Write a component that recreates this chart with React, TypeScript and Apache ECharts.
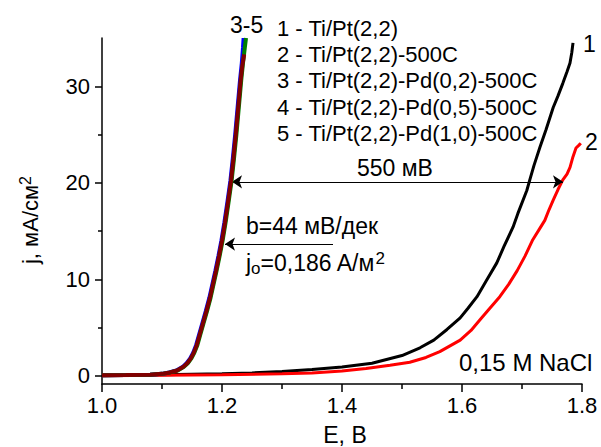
import React, { useEffect, useRef } from "react";
import * as echarts from "echarts";

const FONT = "Liberation Sans";

// Curve 1 - Ti/Pt(2,2) (black)
const curve1: number[][] = [
  [1.0, 0.05], [1.1, 0.1], [1.2, 0.2], [1.25, 0.3], [1.3, 0.45], [1.35, 0.65],
  [1.4, 0.9], [1.45, 1.3], [1.5, 2.1], [1.53, 2.9], [1.553, 3.7], [1.575, 4.8],
  [1.597, 6.0], [1.61, 7.0], [1.625, 8.2], [1.64, 9.8], [1.658, 11.7], [1.67, 13.4],
  [1.685, 15.4], [1.693, 16.8], [1.708, 19.2], [1.713, 20.3], [1.72, 21.8],
  [1.73, 23.7], [1.74, 25.5], [1.752, 27.8], [1.76, 29.0], [1.768, 30.3],
  [1.775, 31.5], [1.78, 32.4], [1.783, 33.5], [1.785, 34.5],
];

// Curve 2 - Ti/Pt(2,2)-500C (red)
const curve2: number[][] = [
  [1.0, 0.0], [1.1, 0.05], [1.2, 0.1], [1.3, 0.2], [1.35, 0.3], [1.4, 0.5],
  [1.44, 0.75], [1.48, 1.1], [1.513, 1.4], [1.54, 1.9], [1.563, 2.5], [1.58, 3.1],
  [1.597, 3.7], [1.615, 4.7], [1.63, 5.8], [1.645, 6.9], [1.663, 8.2], [1.678, 9.5],
  [1.692, 10.9], [1.705, 12.4], [1.718, 14.1], [1.73, 15.3], [1.738, 16.1],
  [1.745, 17.2], [1.752, 18.2], [1.76, 19.3], [1.768, 20.3], [1.775, 20.9],
  [1.78, 21.6], [1.785, 22.7], [1.79, 23.6], [1.795, 23.9], [1.798, 24.1],
];

// Curve 3 - Pd(0,2) (blue)
const curve3: number[][] = [
  [1.0, 0.05], [1.04, 0.07], [1.08, 0.12], [1.1, 0.2], [1.112, 0.35], [1.124, 0.55],
  [1.134, 0.9], [1.141, 1.3], [1.147, 1.8], [1.152, 2.4], [1.157, 3.2], [1.162, 4.3],
  [1.167, 5.4], [1.173, 6.7], [1.179, 8.1], [1.184, 9.5], [1.189, 10.9], [1.194, 12.4],
  [1.199, 14.0], [1.204, 15.9], [1.209, 18.0], [1.214, 20.2], [1.218, 22.5],
  [1.222, 25.0], [1.226, 27.8], [1.23, 30.6], [1.233, 32.4], [1.235, 34.0], [1.236, 35.0],
];

// Curve 4 - Pd(0,5) (green)
const curve4: number[][] = [
  [1.0, 0.05], [1.04, 0.07], [1.08, 0.12], [1.1, 0.2], [1.114, 0.35], [1.126, 0.55],
  [1.136, 0.9], [1.143, 1.3], [1.149, 1.8], [1.154, 2.4], [1.159, 3.2], [1.164, 4.3],
  [1.169, 5.4], [1.175, 6.7], [1.181, 8.1], [1.186, 9.5], [1.191, 10.9], [1.196, 12.4],
  [1.201, 14.0], [1.206, 15.9], [1.211, 18.0], [1.216, 20.2], [1.22, 22.5],
  [1.224, 25.0], [1.228, 27.8], [1.232, 30.6], [1.235, 32.4], [1.238, 34.0], [1.24, 35.0],
];

// Curve 5 - Pd(1,0) (dark red)
const curve5: number[][] = [
  [1.0, 0.05], [1.04, 0.07], [1.08, 0.12], [1.1, 0.2], [1.113, 0.35], [1.125, 0.55],
  [1.135, 0.9], [1.142, 1.3], [1.148, 1.8], [1.153, 2.4], [1.158, 3.2], [1.163, 4.3],
  [1.168, 5.4], [1.174, 6.7], [1.18, 8.1], [1.185, 9.5], [1.19, 10.9], [1.195, 12.4],
  [1.2, 14.0], [1.205, 15.9], [1.21, 18.0], [1.215, 20.2], [1.219, 22.5],
  [1.223, 25.0], [1.227, 27.8], [1.231, 30.6], [1.234, 32.2], [1.237, 33.3],
];

const legendLines = [
  "1 - Ti/Pt(2,2)",
  "2 - Ti/Pt(2,2)-500C",
  "3 - Ti/Pt(2,2)-Pd(0,2)-500C",
  "4 - Ti/Pt(2,2)-Pd(0,5)-500C",
  "5 - Ti/Pt(2,2)-Pd(1,0)-500C",
];

const yMajorTicks = [0, 10, 20, 30];
const yMinorTicks = [5, 15, 25];

// annotation arrows in data units
const gapArrow = { from: 1.2167, to: 1.7683, j: 20.1 };
const tafelArrow = { from: 1.385, to: 1.205, j: 13.65 };

function txt(x: number, y: number, text: string, size: number, extra: any = {}) {
  return {
    type: "text",
    x,
    y,
    silent: true,
    style: {
      text,
      fill: "#000",
      fontFamily: FONT,
      fontSize: size,
      textAlign: "left",
      textVerticalAlign: "middle",
      align: "left",
      verticalAlign: "middle",
      ...extra,
    },
  };
}

export default function App() {
  const ref = useRef<HTMLDivElement>(null);
  useEffect(() => {
    if (!ref.current) return;
    const chart = echarts.init(ref.current, null, { renderer: "svg" });
    const axisLineStyle = { color: "#000", width: 1.5 };
    const lineSeries = (name: string, data: number[][], color: string, width: number, z: number, extra: any = {}) => ({
      name,
      type: "line",
      data,
      showSymbol: false,
      symbol: "none",
      z,
      lineStyle: { color, width },
      itemStyle: { color },
      ...extra,
    });
    const graphics: any[] = [];
    legendLines.forEach((t, i) => {
      graphics.push(txt(277, [28, 54, 80, 107, 133][i], t, 22));
    });
    graphics.push(txt(230, 25, "3-5", 23));
    graphics.push(txt(583, 44, "1", 23));
    graphics.push(txt(585, 142, "2", 23));
    graphics.push(txt(357, 168, "550 мВ", 23));
    graphics.push(txt(246, 226, "b=44 мВ/дек", 23));
    graphics.push(
      txt(246, 263, "{n|j}{sub|o}{n|=0,186 A/м}{sup|2}", 23, {
        rich: {
          n: { fontSize: 23, fontFamily: FONT, fill: "#000", verticalAlign: "middle", lineHeight: 27 },
          sub: { fontSize: 17, fontFamily: FONT, fill: "#000", verticalAlign: "bottom", lineHeight: 18 },
          sup: { fontSize: 17, fontFamily: FONT, fill: "#000", verticalAlign: "top", lineHeight: 18 },
        },
      })
    );
    graphics.push(txt(459, 362, "0,15 M NaCl", 24));
    graphics.push(txt(345, 435, "E, B", 23, { textAlign: "center", align: "center" }));
    graphics.push({
      type: "text",
      x: 30,
      y: 220,
      rotation: Math.PI / 2,
      silent: true,
      style: {
        text: "{n|j, мА/см}{sup|2}",
        textAlign: "center",
        align: "center",
        textVerticalAlign: "middle",
        verticalAlign: "middle",
        fill: "#000",
        fontFamily: FONT,
        fontSize: 22,
        rich: {
          n: { fontSize: 22, fontFamily: FONT, fill: "#000", verticalAlign: "middle", lineHeight: 26 },
          sup: { fontSize: 16, fontFamily: FONT, fill: "#000", verticalAlign: "top", lineHeight: 18 },
        },
      },
    });

    chart.setOption({
      animation: false,
      grid: { left: 102, right: 19, top: 38, bottom: 63 },
      xAxis: {
        type: "value",
        min: 1.0,
        max: 1.8,
        interval: 0.2,
        axisLine: { show: true, onZero: false, lineStyle: axisLineStyle },
        axisTick: { show: true, inside: false, length: 8, lineStyle: axisLineStyle },
        minorTick: { show: true, splitNumber: 2, length: 5, lineStyle: axisLineStyle },
        splitLine: { show: false },
        minorSplitLine: { show: false },
        axisLabel: {
          color: "#000",
          fontFamily: FONT,
          fontSize: 22,
          margin: 10,
          formatter: (v: number) => v.toFixed(1),
        },
      },
      yAxis: [
        {
          type: "value",
          min: -0.85,
          max: 35,
          axisLine: { show: true, onZero: false, lineStyle: axisLineStyle },
          axisTick: { show: true, inside: false, length: 7, customValues: yMajorTicks, lineStyle: axisLineStyle },
          axisLabel: {
            customValues: yMajorTicks,
            color: "#000",
            fontFamily: FONT,
            fontSize: 22,
            margin: 12,
          },
          splitLine: { show: false },
        },
        {
          type: "value",
          min: -0.85,
          max: 35,
          position: "left",
          axisLine: { show: false, onZero: false },
          axisTick: { show: true, inside: false, length: 4, customValues: yMinorTicks, lineStyle: axisLineStyle },
          axisLabel: { show: false },
          splitLine: { show: false },
        },
      ],
      series: [
        lineSeries("1", curve1, "#000000", 3, 2, {
          markLine: {
            silent: true,
            animation: false,
            symbol: ["none", "none"],
            label: { show: false },
            emphasis: { disabled: true },
            lineStyle: { color: "#000", width: 1.2, type: "solid" },
            data: [
              [
                { coord: [gapArrow.from, gapArrow.j], symbol: "arrow", symbolSize: 10 },
                { coord: [gapArrow.to, gapArrow.j], symbol: "arrow", symbolSize: 10 },
              ],
              [
                { coord: [tafelArrow.from, tafelArrow.j], symbol: "none" },
                { coord: [tafelArrow.to, tafelArrow.j], symbol: "arrow", symbolSize: 10 },
              ],
            ],
          },
        }),
        lineSeries("2", curve2, "#ff0000", 3, 3),
        lineSeries("3", curve3, "#0000ff", 4, 4),
        lineSeries("4", curve4, "#008000", 4, 5),
        lineSeries("5", curve5, "#800000", 4, 6),
      ],
      graphic: graphics,
    });
    return () => chart.dispose();
  }, []);
  return <div ref={ref} style={{ width: 601, height: 447, position: "absolute", left: 0, top: 0 }} />;
}
